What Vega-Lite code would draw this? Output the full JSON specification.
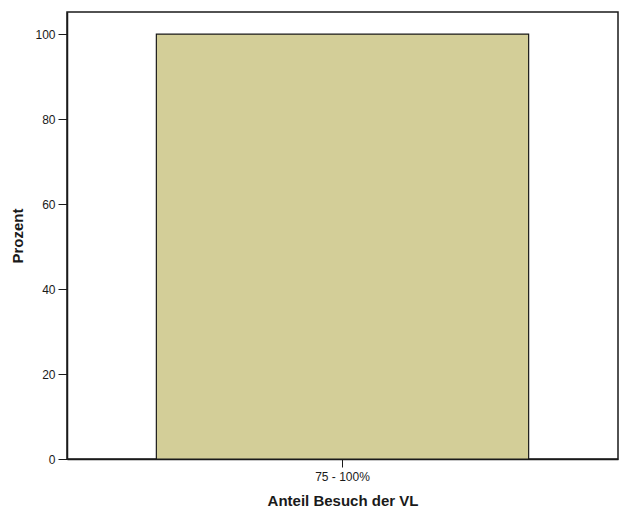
{
  "$schema": "https://vega.github.io/schema/vega-lite/v6.json",
  "autosize": "none",
  "width": 551,
  "height": 447,
  "padding": {"left": 67, "top": 12, "right": 1, "bottom": 53},
  "background": "white",
  "config": {
    "view": {"stroke": "#1a1a1a", "strokeWidth": 1.5},
    "font": "Liberation Sans",
    "axis": {
      "domainColor": "#1a1a1a",
      "tickColor": "#1a1a1a",
      "labelColor": "#1a1a1a",
      "titleColor": "#1a1a1a",
      "labelFont": "Liberation Sans",
      "titleFont": "Liberation Sans",
      "labelFontSize": 12,
      "titleFontSize": 15,
      "titleFontWeight": "bold",
      "grid": false
    }
  },
  "data": {"values": [{"kategorie": "75 - 100%", "prozent": 100}]},
  "mark": {"type": "bar", "fill": "#d3ce98", "stroke": "#1a1a1a", "strokeWidth": 1.2},
  "encoding": {
    "x": {
      "field": "kategorie",
      "type": "nominal",
      "title": "Anteil Besuch der VL",
      "scale": {"paddingInner": 0, "paddingOuter": 0.24},
      "axis": {"labelAngle": 0, "tickSize": 8, "labelPadding": 4, "titlePadding": 11, "domainWidth": 1.5}
    },
    "y": {
      "field": "prozent",
      "type": "quantitative",
      "title": "Prozent",
      "scale": {"domain": [0, 105.2], "nice": false},
      "axis": {"values": [0, 20, 40, 60, 80, 100], "tickSize": 9, "labelPadding": 3, "titlePadding": 9, "domainWidth": 1.5}
    }
  }
}
